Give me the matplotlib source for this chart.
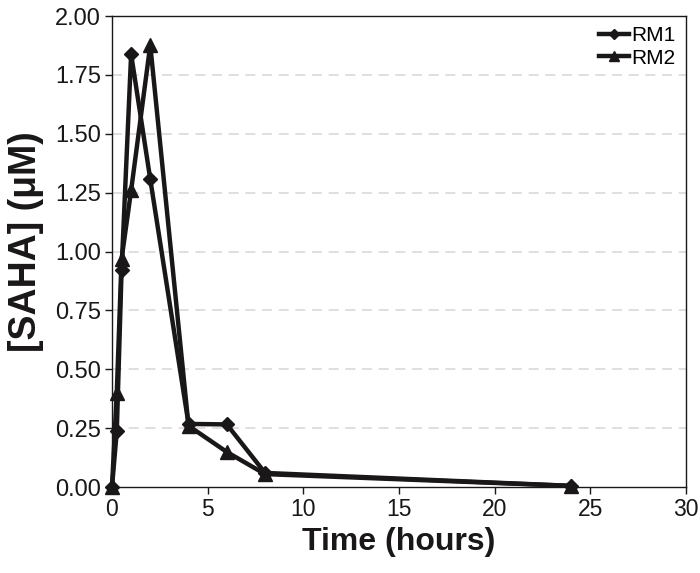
import matplotlib
matplotlib.use("Agg")
import matplotlib.pyplot as plt

plt.rcParams['font.family'] = ['Liberation Sans', 'DejaVu Sans']

time_h = [0, 0.25, 0.5, 1, 2, 4, 6, 8, 24]
rm1 = [0.0, 0.237, 0.92, 1.838, 1.307, 0.268, 0.266, 0.06, 0.005]
rm2 = [0.0, 0.40, 0.968, 1.26, 1.877, 0.26, 0.149, 0.055, 0.005]
xticks = [0, 5, 10, 15, 20, 25, 30]
yticks = [0.0, 0.25, 0.5, 0.75, 1.0, 1.25, 1.5, 1.75, 2.0]

fig = plt.figure(figsize=(7, 5.73), dpi=100)
ax = fig.add_axes([0.16, 0.15, 0.82, 0.822])

ax.plot(time_h, rm1, color='#1a1718', lw=3.2, marker='D', ms=7.5, label='RM1',
        zorder=3, clip_on=False)
ax.plot(time_h, rm2, color='#1a1718', lw=3.2, marker='^', ms=10, label='RM2',
        zorder=3, clip_on=False)

ax.set_xlim(0, 30)
ax.set_ylim(0, 2.0)
ax.set_xticks(xticks)
ax.set_yticks(yticks)
ax.set_yticklabels([f"{v:.2f}" for v in yticks])
for y in yticks[1:-1]:
    ax.axhline(y, color='#d9d9d9', lw=1.2, ls=(0, (6, 4)), zorder=1)

ax.tick_params(direction='out', length=5, width=1, labelsize=16.5, colors='#1a1718', pad=3)
ax.tick_params(axis='y', labelsize=17)
for s in ax.spines.values():
    s.set_linewidth(1)
    s.set_color('#1a1718')

ax.set_xlabel('Time (hours)', fontsize=23, fontweight='bold', color='#1a1718', labelpad=4)
ax.set_ylabel('[SAHA] (μM)', fontsize=27, fontweight='bold', color='#1a1718')
ax.yaxis.set_label_coords(-0.118, 0.522)

leg = ax.legend(loc='upper right', frameon=False, fontsize=15, handlelength=1.45,
                handletextpad=0.1, borderaxespad=0.1, labelspacing=0.15, markerscale=0.65)

fig.savefig('out.png', dpi=100)
